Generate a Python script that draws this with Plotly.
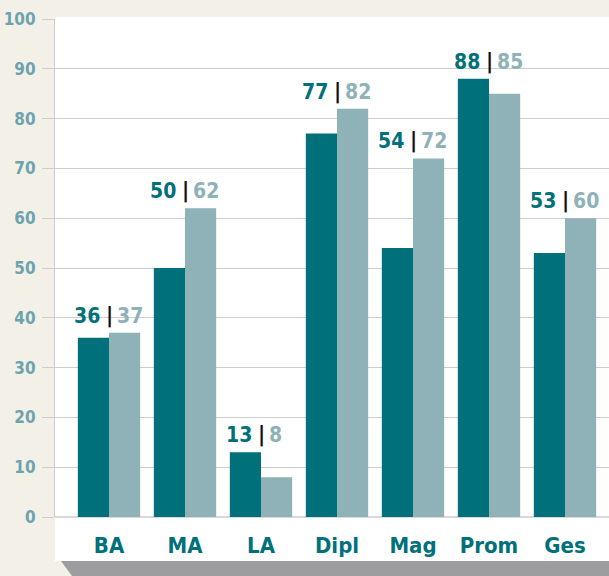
import plotly.graph_objects as go

categories = ["BA", "MA", "LA", "Dipl", "Mag", "Prom", "Ges"]
series_dark = [36, 50, 13, 77, 54, 88, 53]
series_light = [37, 62, 8, 82, 72, 85, 60]
y_ticks = [0, 10, 20, 30, 40, 50, 60, 70, 80, 90, 100]

DARK = "#00707A"
LIGHT = "#8FB1B8"
TICKC = "#6DA3AE"
BEIGE = "#F3F0E8"
FONT = "DejaVu Sans Condensed, Liberation Sans Narrow, Arial Narrow, sans-serif"

xs = list(range(len(categories)))
fig = go.Figure()
fig.add_bar(x=xs, y=series_dark, marker_color=DARK, marker_line_width=0, hoverinfo="skip")
fig.add_bar(x=xs, y=series_light, marker_color=LIGHT, marker_line_width=0, hoverinfo="skip")

annotations = []
for i, (a, b) in enumerate(zip(series_dark, series_light)):
    top = max(a, b)
    annotations.append(dict(x=i, y=top, text=str(a), showarrow=False, xanchor="right",
                            yanchor="bottom", xshift=-7, yshift=3,
                            font=dict(family=FONT, size=21, color=DARK, weight="bold")))
    annotations.append(dict(x=i, y=top, text="|", showarrow=False, xanchor="center",
                            yanchor="bottom", xshift=0, yshift=3,
                            font=dict(family=FONT, size=22, color="#111111", weight="bold")))
    annotations.append(dict(x=i, y=top, text=str(b), showarrow=False, xanchor="left",
                            yanchor="bottom", xshift=6, yshift=3,
                            font=dict(family=FONT, size=21, color=LIGHT, weight="bold")))

shapes = [
    dict(type="rect", xref="paper", yref="paper", x0=0, x1=1, y0=-0.0884, y1=1.004,
         fillcolor="white", line_width=0, layer="below"),
    dict(type="path", xref="paper", yref="paper",
         path="M 0.0108 -0.0884 L 1 -0.0884 L 1 -0.1185 L 0.0307 -0.1185 Z",
         fillcolor="#9D9D9F", line_width=0, layer="below"),
]

fig.update_layout(
    width=609, height=576,
    margin=dict(l=55, r=0, t=19, b=59),
    paper_bgcolor=BEIGE, plot_bgcolor="white",
    barmode="group", bargap=0.18, bargroupgap=0,
    showlegend=False,
    annotations=annotations, shapes=shapes,
    xaxis=dict(range=[-54/76, 500/76], tickvals=xs, ticktext=categories,
               showgrid=False, zeroline=False, ticks="", ticklabelstandoff=13,
               tickfont=dict(family=FONT, size=22, color=DARK, weight="bold"), fixedrange=True),
    yaxis=dict(range=[0, 100], tickvals=y_ticks, showgrid=True, gridcolor="#CDCDCD",
               gridwidth=1, zeroline=True, zerolinecolor="#D9D9D9", zerolinewidth=2,
               ticks="outside", ticklen=12, tickcolor="#CDCDCD", tickwidth=1,
               showline=True, linecolor="#CDCDCD", linewidth=1,
               ticklabelstandoff=3,
               tickfont=dict(family=FONT, size=17, color=TICKC, weight="bold"), fixedrange=True),
)

fig.write_html("out.html", config={"displayModeBar": False},
               post_script="document.body.style.margin='0';document.body.style.padding='0';")
